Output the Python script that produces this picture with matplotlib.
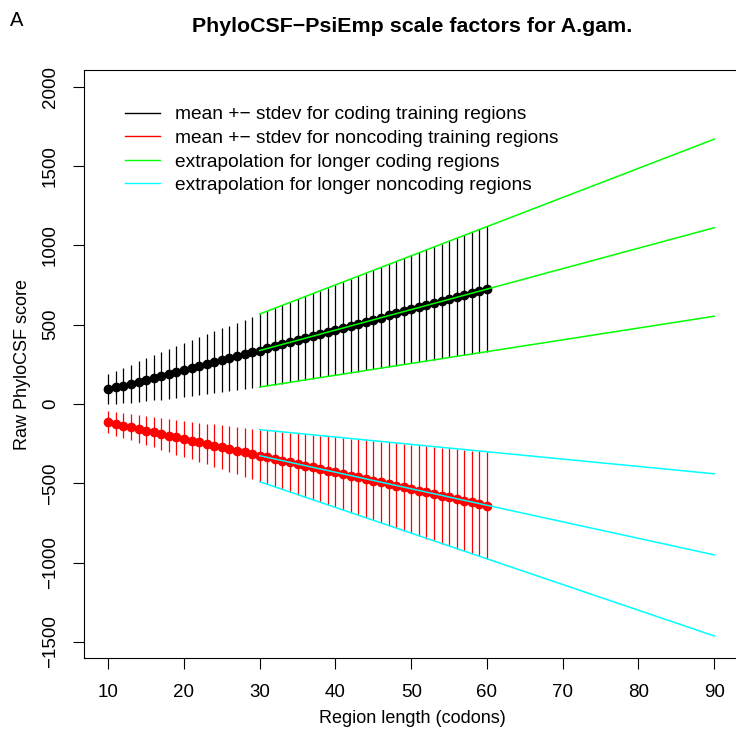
import numpy as np
import matplotlib
matplotlib.use('Agg')
import matplotlib.pyplot as plt
from matplotlib.lines import Line2D

plt.rcParams['font.family'] = ['Liberation Sans', 'DejaVu Sans']

# Region lengths of the training data (codons)
lengths = list(range(10, 61))

# Coding training regions: mean and stdev of raw score
coding_mean = [93, 104, 116, 128, 141, 153, 165, 178, 190, 202,
               214, 226, 239, 251, 263, 276, 288, 300, 312, 325,
               337, 350, 363, 376, 389, 402, 415, 428, 441, 454,
               467, 480, 493, 506, 519, 532, 545, 558, 571, 584,
               597, 610, 623, 636, 649, 662, 675, 688, 701, 714,
               726]
coding_sd = [95, 104, 112, 120, 128, 136, 143, 150, 157, 164,
             170, 176, 182, 188, 194, 200, 205, 211, 216, 222,
             230, 236, 241, 247, 252, 258, 263, 269, 274, 280,
             285, 291, 296, 302, 307, 313, 318, 324, 329, 335,
             340, 346, 351, 357, 362, 368, 373, 379, 384, 390,
             396]

# Noncoding training regions: mean and stdev of raw score
noncoding_mean = [-115, -126, -136, -147, -157, -168, -178, -189, -199, -210,
                  -220, -231, -241, -252, -262, -273, -283, -294, -304, -315,
                  -326, -336, -347, -357, -368, -378, -389, -399, -410, -420,
                  -431, -441, -452, -462, -473, -483, -494, -504, -515, -525,
                  -536, -546, -557, -567, -578, -588, -599, -609, -620, -630,
                  -641]
noncoding_sd = [70, 74, 78, 83, 87, 92, 96, 101, 105, 109,
                113, 118, 123, 128, 134, 139, 144, 149, 154, 159,
                164, 170, 175, 181, 187, 193, 198, 204, 210, 216,
                221, 227, 233, 239, 244, 250, 256, 262, 268, 273,
                279, 285, 291, 296, 302, 308, 314, 319, 325, 331,
                337]

# Extrapolation for longer regions
ext_lengths = [30, 90]
ext_coding_mean = [337, 1111]
ext_coding_sd = [230, 558]
ext_noncoding_mean = [-326, -951]
ext_noncoding_sd = [164, 511]

x = np.array(lengths)
cm, cs = np.array(coding_mean), np.array(coding_sd)
nm, ns = np.array(noncoding_mean), np.array(noncoding_sd)
ex = np.array(ext_lengths)
ecm, ecs = np.array(ext_coding_mean), np.array(ext_coding_sd)
enm, ens = np.array(ext_noncoding_mean), np.array(ext_noncoding_sd)

green = '#00FF00'
cyan = '#00FFFF'

fig = plt.figure(figsize=(7.36, 7.30), dpi=100)
# right edge of the box sits past the image border, like the reference
ax = fig.add_axes([84 / 736, 72 / 730, 656 / 736, 588 / 730])

# Error bars and means
ax.vlines(x, cm - cs, cm + cs, color='black', lw=0.9)
ax.vlines(x, nm - ns, nm + ns, color='red', lw=0.9)
ax.plot(x, cm, 'o', color='black', ms=6, mec='black')
ax.plot(x, nm, 'o', color='red', ms=6, mec='red')

# Extrapolation lines
for k in (-1, 0, 1):
    ax.plot(ex, ecm + k * ecs, color=green, lw=1.1)
    ax.plot(ex, enm + k * ens, color=cyan, lw=1.1)

ax.set_xlim(6.8, 93.4)
ax.set_ylim(-1601, 2105)
ax.set_xticks(range(10, 91, 10))
ax.set_yticks(range(-1500, 2001, 500))
ax.set_yticklabels([str(v).replace('-', '\u2212') for v in range(-1500, 2001, 500)],
                   rotation=90, va='center')
ax.tick_params(axis='both', direction='out', length=8, width=0.8, labelsize=13.5)
ax.tick_params(axis='x', pad=11)
ax.tick_params(axis='y', pad=10)
for sp in ax.spines.values():
    sp.set_linewidth(0.8)
ax.spines['right'].set_visible(False)

ax.set_xlabel('Region length (codons)', fontsize=13, labelpad=6)
ax.set_ylabel('Raw PhyloCSF score', fontsize=13, labelpad=8)

fig.text(412 / 736, 1 - 26 / 730, 'PhyloCSF\u2212PsiEmp scale factors for A.gam.',
         ha='center', va='center', fontsize=15.4, fontweight='bold')
fig.text(10 / 736, 1 - 20 / 730, 'A', ha='left', va='center', fontsize=14.5)

handles = [Line2D([], [], color='black', lw=1),
           Line2D([], [], color='red', lw=1),
           Line2D([], [], color=green, lw=1),
           Line2D([], [], color=cyan, lw=1)]
labels = ['mean +\u2212 stdev for coding training regions',
          'mean +\u2212 stdev for noncoding training regions',
          'extrapolation for longer coding regions',
          'extrapolation for longer noncoding regions']
ax.legend(handles, labels, loc='upper left', frameon=False, fontsize=13.8,
          bbox_to_anchor=(125 / 736, 1 - 106 / 730), bbox_transform=fig.transFigure,
          borderaxespad=0, borderpad=0, handlelength=1.85, handletextpad=0.75,
          labelspacing=0.32)

fig.savefig('out.png', dpi=100)
